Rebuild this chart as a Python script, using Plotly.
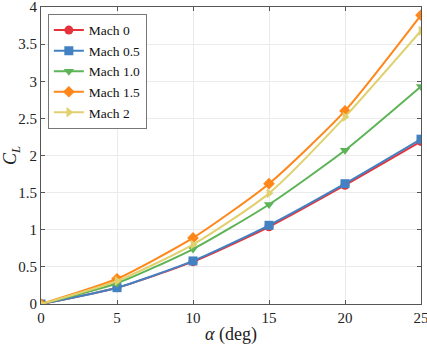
import plotly.graph_objects as go

# ==========================================
# Data
# ==========================================

alpha = [0, 5, 10, 15, 20, 25]

cl_mach0 = [0, 0.22, 0.57, 1.04, 1.60, 2.19]
cl_mach05 = [0, 0.22, 0.58, 1.06, 1.62, 2.22]
cl_mach10 = [0, 0.28, 0.74, 1.34, 2.07, 2.93]
cl_mach15 = [0, 0.34, 0.89, 1.62, 2.60, 3.89]
cl_mach20 = [0, 0.31, 0.80, 1.49, 2.52, 3.68]

names = ["Mach 0", "Mach 0.5", "Mach 1.0", "Mach 1.5", "Mach 2"]
series = [cl_mach0, cl_mach05, cl_mach10, cl_mach15, cl_mach20]
colors = ["#e6333b", "#4281c2", "#5db456", "#ff8618", "#e0d06e"]
symbols = ["circle", "square", "triangle-down", "diamond", "triangle-right"]

FONT = "Liberation Serif"
AXIS = "#555555"
GRID = "#ebebeb"

# ==========================================
# Figure
# ==========================================

fig = go.Figure()

for name, y, c, s in zip(names, series, colors, symbols):
    fig.add_trace(go.Scatter(
        x=alpha,
        y=y,
        name=name,
        mode="lines+markers",
        line=dict(color=c, width=2, shape="spline", smoothing=0.6),
        marker=dict(symbol=s, color=c, size=9),
    ))

fig.update_layout(
    width=427,
    height=345,
    paper_bgcolor="white",
    plot_bgcolor="white",
    font=dict(family=FONT, size=15, color="#222222"),
    margin=dict(l=41, r=6, t=7, b=41),
    showlegend=True,
    legend=dict(
        x=0.018, y=0.977,
        xanchor="left", yanchor="top",
        bgcolor="white",
        bordercolor="#777777",
        borderwidth=1,
        font=dict(family=FONT, size=13.5, color="#111111"),
        tracegroupgap=0,
        itemwidth=30,
    ),
    xaxis=dict(
        range=[0, 25],
        tickvals=[0, 5, 10, 15, 20, 25],
        showgrid=True, gridcolor=GRID,
        showline=True, linecolor=AXIS, linewidth=1, mirror="ticks",
        ticks="inside", ticklen=4, tickcolor=AXIS,
        ticklabeloverflow="allow",
        automargin=False,
        zeroline=False,
        title=dict(text="<i>α</i> (deg)", standoff=4),
    ),
    yaxis=dict(
        range=[0, 4],
        tickvals=[0, 0.5, 1, 1.5, 2, 2.5, 3, 3.5, 4],
        ticktext=["0", "0.5", "1", "1.5", "2", "2.5", "3", "3.5", "4"],
        showgrid=True, gridcolor=GRID,
        showline=True, linecolor=AXIS, linewidth=1, mirror="ticks",
        ticks="inside", ticklen=4, tickcolor=AXIS,
        ticklabeloverflow="allow",
        automargin=False,
        zeroline=False,
        title=dict(text="<i>C</i><sub><i>L</i></sub>", standoff=2),
    ),
)

fig.write_html(
    "out.html",
    config={"displayModeBar": False},
    post_script="document.body.style.margin='0';",
)
